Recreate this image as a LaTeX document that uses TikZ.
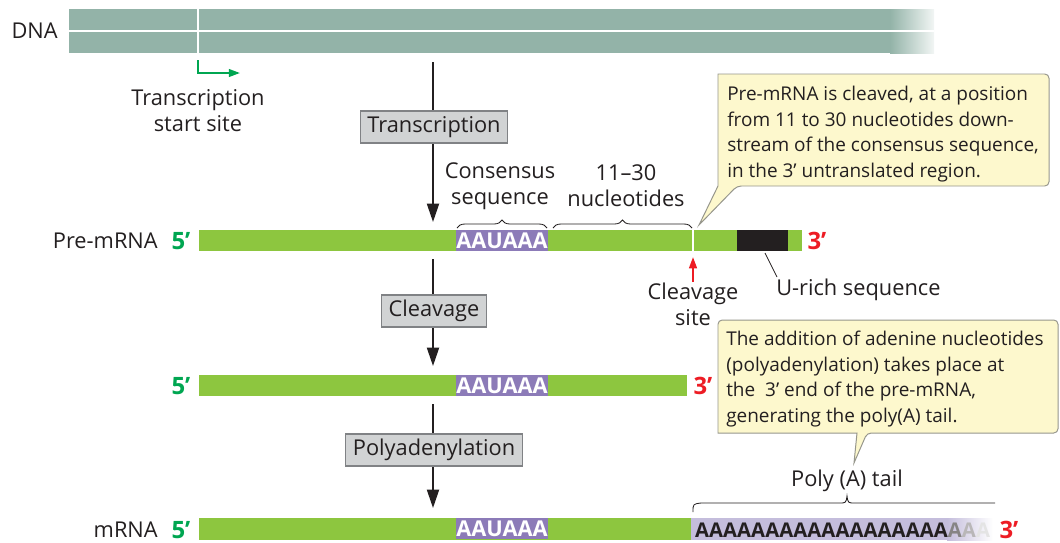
\documentclass[tikz,border=0pt]{standalone}
\usepackage{fontspec}
\setmainfont{Open Sans}
\usetikzlibrary{arrows.meta,positioning,calc,decorations.pathreplacing}
\tikzset{>=Stealth}

\definecolor{dnagreen}{RGB}{147,179,168}
\definecolor{rnagreen}{RGB}{141,198,63}
\definecolor{signal}{RGB}{140,123,184}
\definecolor{tailpurple}{RGB}{196,189,220}
\definecolor{fiveend}{RGB}{0,166,81}
\definecolor{threeend}{RGB}{237,28,36}
\definecolor{boxgray}{RGB}{209,211,212}
\definecolor{boxline}{RGB}{128,130,133}
\definecolor{notefill}{RGB}{253,248,205}
\definecolor{noteline}{RGB}{150,150,140}
\definecolor{ink}{RGB}{35,31,32}

\newcommand\lblfont{\fontsize{15.5}{18.5}\selectfont}
\newcommand\notefont{\fontsize{13.5}{18.1}\selectfont}
\newcommand\primefont{\fontsize{17}{20}\selectfont\bfseries}

\begin{document}
\begin{tikzpicture}[x=0.025cm, y=-0.025cm,
    lbl/.style={font=\lblfont, text=ink, inner sep=0pt, align=center},
    stepbox/.style={draw=boxline, fill=boxgray, line width=0.9pt, font=\lblfont, text=ink, minimum height=0.8cm, inner xsep=0.18cm},
    flow/.style={-{Triangle[length=13pt,width=8.5pt]}, line width=1.4pt, draw=ink},
    mark5/.style={-{Triangle[length=8pt,width=5.5pt]}, line width=1.4pt},
    notebox/.style={draw=noteline, fill=notefill, line width=0.7pt},
    notetext/.style={font=\notefont, text=ink, align=left, inner sep=0pt, anchor=north west},
    five/.style={font=\primefont, text=fiveend, inner sep=0pt},
    three/.style={font=\primefont, text=threeend, inner sep=0pt},
    aau/.style={text=white, font=\lblfont\bfseries, inner sep=0pt},
    polya/.style={text=ink, font=\fontsize{14.4}{16}\selectfont\bfseries, inner sep=0pt},
    brc/.style={decorate, decoration={brace, amplitude=0.2cm}, draw=ink, line width=0.6pt}
  ]
  \useasboundingbox (0,0) rectangle (1060,542);

  % DNA
  \fill[dnagreen] (69,9) rectangle (890,53);
  \shade[left color=dnagreen, right color=dnagreen!12] (890,9) rectangle (934,53);
  \draw[white, line width=0.8pt] (69,31) -- (934,31);
  \draw[white, line width=1pt] (198,9) -- (198,53);
  \node[lbl, anchor=east] (dna) at (58,31) {DNA};

  \coordinate (tss) at (198,60);
  \coordinate (tssend) at (240,73);
  \draw[mark5, fiveend] (tss) |- (tssend);
  \node[lbl] (tsslbl) at (198,111) {Transcription\\start site};

  % steps
  \coordinate (t0) at (433,62);  \coordinate (t1) at (433,222);
  \coordinate (c0) at (433,259); \coordinate (c1) at (433,366);
  \coordinate (p0) at (433,404); \coordinate (p1) at (433,508);
  \draw[flow] (t0) -- (t1);
  \draw[flow] (c0) -- (c1);
  \draw[flow] (p0) -- (p1);
  \node[stepbox] (tbox) at (434,127) {Transcription};
  \node[stepbox] (cbox) at (434,311) {Cleavage};
  \node[stepbox] (pbox) at (434,450) {Polyadenylation};

  % RNA bars
  \fill[rnagreen] (199,230) rectangle (802,251);
  \fill[rnagreen] (199,375) rectangle (687,396);
  \fill[rnagreen] (199,518) rectangle (691,540);
  \foreach \y in {230,375,518} {
    \fill[signal] (456,\y) rectangle (548,\y+21);
    \node[aau] (aau\y) at (502,\y+11) {AAUAAA};
  }
  \draw[white, line width=1.4pt] (693,230) -- (693,251);
  \fill[ink] (737,230) rectangle (788,251);

  \node[lbl, anchor=east] (pre) at (158,241) {Pre-mRNA};
  \node[lbl, anchor=east] (mrna) at (158,530) {mRNA};
  \node[five] (f1) at (181,241) {5’};
  \node[five] (f2) at (181,386) {5’};
  \node[five] (f3) at (181,530) {5’};
  \node[three] (e1) at (817,241) {3’};
  \node[three] (e2) at (703,386) {3’};
  \node[three] (e3) at (1009,530) {3’};

  % poly(A) tail
  \fill[tailpurple] (691,518) rectangle (947,540);
  \shade[left color=tailpurple, right color=white] (947,518) rectangle (993,540);
  \foreach \i in {0,...,17} \node[polya] (a\i) at (702+14.05*\i,530) {A};
  \foreach \i/\c in {18/55,19/32,20/12} \node[polya, text=ink!\c] (a\i) at (702+14.05*\i,530) {A};

  % braces and labels
  \draw[brc] (457,228) -- (547,228);
  \draw[brc] (553,228) -- (692,228);
  \node[lbl] (cons) at (500,186) {Consensus\\sequence};
  \node[lbl] (nt) at (626,186) {11–30\\nucleotides};
  \draw[ink, line width=0.6pt] (693,512) .. controls (693,504) .. (701,503) -- (839,503)
    .. controls (846,503) .. (847,496) .. controls (848,503) .. (855,503) -- (995,503);
  \node[lbl] (polylbl) at (847,481) {Poly (A) tail};

  \coordinate (cut0) at (693,282);
  \coordinate (cut1) at (693,257);
  \draw[mark5, threeend] (cut0) -- (cut1);
  \node[lbl] (cutlbl) at (693,304) {Cleavage\\site};

  \coordinate (urich0) at (765,253);
  \coordinate (urich1) at (777,277);
  \draw[ink, line width=0.6pt] (urich0) -- (urich1);
  \node[lbl, anchor=west] (urich) at (776,290) {U-rich sequence};

  % callouts
  \coordinate (n1tip) at (699,225);
  \draw[notebox] (n1tip) -- (718,186) -- (718,74) [rounded corners=3pt] -- (1049,74) -- (1049,186)
    -- (737,186) [sharp corners] -- cycle;
  \node[notetext] (note1) at (727,86)
    {Pre-mRNA is cleaved, at a position\\from 11 to 30 nucleotides down-\\stream of the consensus sequence,\\in the 3’ untranslated region.};

  \coordinate (n2tip) at (854,463);
  \draw[notebox] (n2tip) -- (857,433) -- (718,433) [rounded corners=3pt] -- (718,320) -- (1058,320)
    -- (1058,433) -- (867,433) [sharp corners] -- cycle;
  \node[notetext] (note2) at (726,331)
    {The addition of adenine nucleotides\\(polyadenylation) takes place at\\the~ 3’ end of the pre-mRNA,\\generating the poly(A) tail.};
\end{tikzpicture}
\end{document}
